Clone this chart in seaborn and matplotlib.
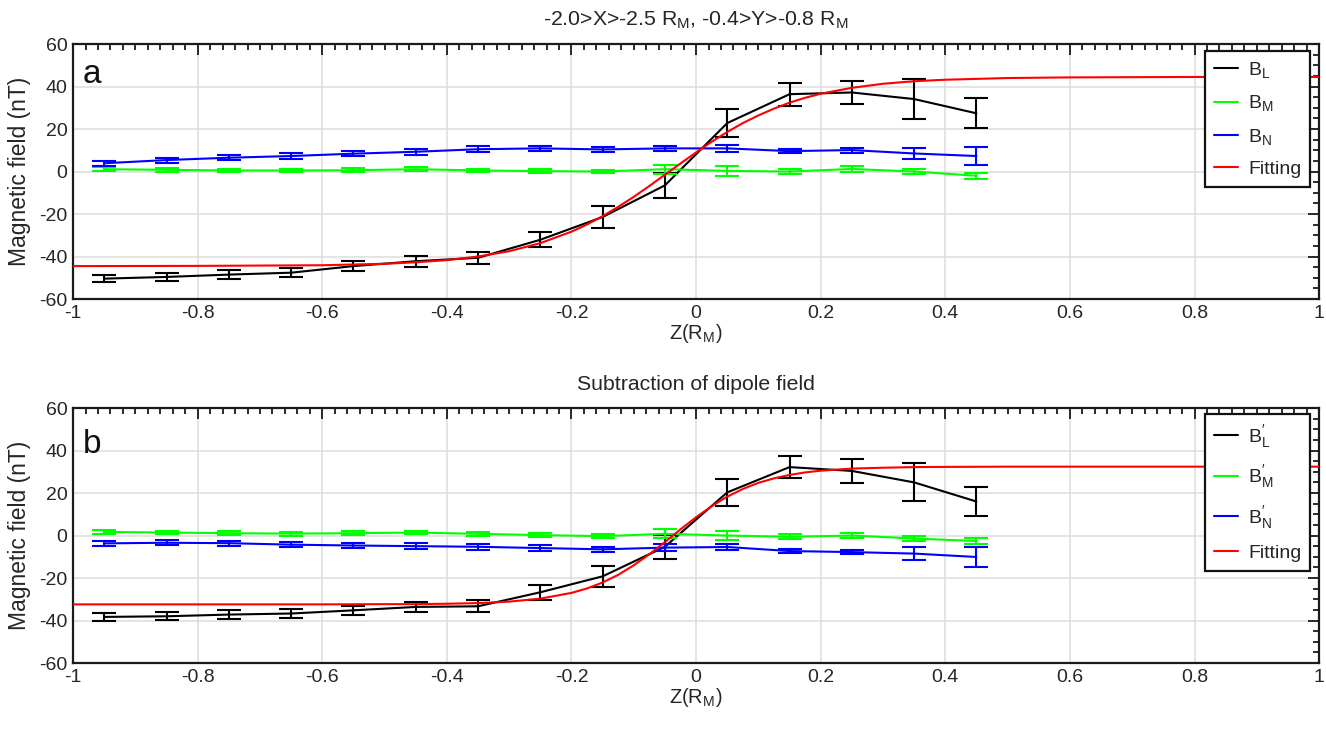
import matplotlib
matplotlib.use("Agg")
import matplotlib.pyplot as plt
import seaborn as sns
import pandas as pd
from matplotlib.lines import Line2D
from matplotlib.ticker import MultipleLocator, FuncFormatter

# ---------------- data ----------------
z = [-0.95, -0.85, -0.75, -0.65, -0.55, -0.45, -0.35, -0.25,
     -0.15, -0.05, 0.05, 0.15, 0.25, 0.35, 0.45]

# panel a
a_BL = [-50.4, -49.6, -48.5, -47.6, -44.5, -42.2, -40.6, -32.1,
        -21.4, -6.5, 22.8, 36.4, 37.2, 34.1, 27.4]
a_BL_err = [1.7, 1.7, 2.0, 2.2, 2.5, 2.6, 2.9, 3.5,
            5.0, 5.9, 6.6, 5.4, 5.4, 9.5, 7.1]
a_BM = [1.1, 0.8, 0.5, 0.5, 0.6, 1.1, 0.5, 0.2,
        0.0, 1.1, 0.3, 0.0, 1.2, 0.0, -2.0]
a_BM_err = [0.9, 0.9, 0.9, 0.9, 0.9, 0.9, 0.9, 0.9,
            0.9, 2.2, 2.5, 1.2, 1.3, 1.3, 1.4]
a_BN = [3.9, 5.4, 6.5, 7.3, 8.4, 9.3, 10.5, 10.9,
        10.4, 10.9, 10.9, 9.6, 10.1, 8.5, 7.3]
a_BN_err = [1.2, 1.2, 1.2, 1.2, 1.3, 1.3, 1.3, 1.3,
            1.2, 1.3, 1.5, 1.1, 1.2, 2.6, 4.4]

fit_z_a = [-1.0, -0.8, -0.6, -0.5, -0.45, -0.4, -0.35, -0.3, -0.25, -0.2,
           -0.175, -0.15, -0.125, -0.1, -0.075, -0.05, -0.025, 0.0, 0.025,
           0.05, 0.075, 0.1, 0.125, 0.15, 0.175, 0.2, 0.25, 0.3, 0.35, 0.4,
           0.5, 0.6, 0.8, 1.0]
fit_a = [-44.5, -44.4, -44.1, -43.4, -42.7, -41.7, -40.0, -37.5, -33.7, -28.3,
         -24.9, -21.0, -16.6, -11.9, -6.8, -1.5, 3.8, 9.0, 14.0,
         18.6, 22.8, 26.4, 29.6, 32.4, 34.7, 36.6, 39.4, 41.3, 42.5, 43.2,
         44.0, 44.3, 44.5, 44.5]

# panel b
b_BL = [-38.3, -38.0, -37.2, -36.7, -35.2, -33.6, -33.3, -26.7,
        -19.2, -5.3, 20.3, 32.2, 30.4, 25.0, 16.0]
b_BL_err = [1.9, 1.9, 2.2, 2.2, 2.2, 2.5, 2.9, 3.5,
            4.8, 5.7, 6.4, 5.3, 5.6, 8.9, 7.0]
b_BM = [1.7, 1.4, 1.1, 0.9, 1.1, 1.4, 0.8, 0.2,
        -0.3, 0.8, 0.0, -0.6, 0.0, -1.4, -2.6]
b_BM_err = [0.9, 0.9, 0.9, 0.9, 0.9, 0.9, 0.9, 0.9,
            0.9, 2.2, 2.3, 1.2, 1.3, 1.4, 1.2]
b_BN = [-3.7, -3.4, -3.6, -4.3, -4.7, -5.0, -5.3, -5.9,
        -6.5, -5.7, -5.4, -7.3, -7.8, -8.5, -10.1]
b_BN_err = [1.2, 1.2, 1.2, 1.2, 1.3, 1.3, 1.3, 1.3,
            1.2, 1.5, 1.5, 1.1, 1.1, 3.1, 4.7]

fit_z_b = [-1.0, -0.8, -0.6, -0.5, -0.45, -0.4, -0.35, -0.3, -0.25, -0.2,
           -0.175, -0.15, -0.125, -0.1, -0.075, -0.05, -0.025, 0.0, 0.025,
           0.05, 0.075, 0.1, 0.125, 0.15, 0.175, 0.2, 0.25, 0.3, 0.35, 0.4,
           0.5, 0.6, 0.8, 1.0]
fit_b = [-32.4, -32.4, -32.4, -32.3, -32.3, -32.1, -31.8, -31.1, -29.7, -27.0,
         -24.9, -22.1, -18.5, -14.0, -8.8, -3.1, 2.9, 8.6, 13.8,
         18.3, 21.9, 24.8, 26.9, 28.5, 29.7, 30.5, 31.5, 31.9, 32.2, 32.3,
         32.4, 32.4, 32.4, 32.4]

title_a = r"-2.0>X>-2.5 R$_\mathregular{M}$, -0.4>Y>-0.8 R$_\mathregular{M}$"
title_b = "Subtraction of dipole field"
labels_a = [r"$\mathregular{B_L}$", r"$\mathregular{B_M}$", r"$\mathregular{B_N}$", "Fitting"]
labels_b = [r"$\mathregular{B}^{\prime}_{\mathregular{L}}$",
            r"$\mathregular{B}^{\prime}_{\mathregular{M}}$",
            r"$\mathregular{B}^{\prime}_{\mathregular{N}}$", "Fitting"]
xlabel = r"Z(R$_\mathregular{M}$)"
ylabel = "Magnetic field (nT)"

# ---------------- style ----------------
sns.set_theme(style="white")
plt.rcParams["font.family"] = ["Liberation Sans", "DejaVu Sans"]
plt.rcParams["mathtext.fontset"] = "custom"
plt.rcParams["mathtext.rm"] = "Liberation Sans"
plt.rcParams["mathtext.it"] = "Liberation Sans:italic"
plt.rcParams["mathtext.bf"] = "Liberation Sans:bold"

C_K, C_G, C_B, C_R = "#000000", "#00ff00", "#0000ff", "#ff0000"
TXT = "#262626"

fig = plt.figure(figsize=(13.26, 7.29), dpi=100)
ax_a = fig.add_axes([0.0551, 0.5898, 0.9397, 0.3498])
ax_b = fig.add_axes([0.0551, 0.0905, 0.9397, 0.3498])


def panel(ax, series, fz, fy, labels, title, letter, letter_y, leg_y):
    for y, err, c in series:
        df = pd.DataFrame({"z": z, "B": y})
        sns.lineplot(data=df, x="z", y="B", color=c, linewidth=1.5,
                     ax=ax, legend=False, errorbar=None, zorder=3)
        ax.errorbar(z, y, yerr=err, fmt="none", ecolor=c, elinewidth=1.5,
                    capsize=8.3, capthick=1.5, zorder=3)
    dff = pd.DataFrame({"z": fz, "B": fy})
    sns.lineplot(data=dff, x="z", y="B", color=C_R, linewidth=1.5,
                 ax=ax, legend=False, errorbar=None, zorder=4)

    ax.set_xlim(-1, 1)
    ax.set_ylim(-60, 60)
    ax.xaxis.set_major_locator(MultipleLocator(0.2))
    ax.xaxis.set_minor_locator(MultipleLocator(0.02))
    ax.yaxis.set_major_locator(MultipleLocator(20))
    ax.yaxis.set_minor_locator(MultipleLocator(5))
    ax.xaxis.set_major_formatter(FuncFormatter(lambda v, p: f"{round(v, 2):g}" if abs(v) > 1e-9 else "0"))
    ax.yaxis.set_major_formatter(FuncFormatter(lambda v, p: f"{int(round(v))}"))
    ax.tick_params(which="both", direction="in", top=True, right=True,
                   color="#1a1a1a", width=1.3, labelsize=14, labelcolor=TXT)
    ax.tick_params(which="major", length=8, pad=4)
    ax.tick_params(which="minor", length=4)
    ax.grid(True, which="major", color="#dcdcdc", linewidth=1.1)
    ax.set_axisbelow(True)
    for s in ax.spines.values():
        s.set_color("#1a1a1a")
        s.set_linewidth(1.6)
    ax.set_xlabel(xlabel, fontsize=14.5, color=TXT, labelpad=0)
    ax.set_ylabel(ylabel, fontsize=16.5, color=TXT, labelpad=6)
    ax.set_title(title, fontsize=15.3, color=TXT, pad=13)
    ax.text(0.008, letter_y, letter, transform=ax.transAxes, fontsize=24,
            ha="left", va="baseline", color="#111111")

    handles = [Line2D([0], [0], color=c, lw=1.5) for c in (C_K, C_G, C_B, C_R)]
    leg = ax.legend(handles, labels, loc="upper right",
                    bbox_to_anchor=(0.9928, leg_y), borderaxespad=0,
                    fontsize=14, frameon=True, fancybox=False, framealpha=1,
                    edgecolor="#111111", handlelength=1.25, handletextpad=0.5,
                    labelspacing=0.7, borderpad=0.45)
    leg.get_frame().set_linewidth(1.6)
    leg.set_zorder(10)


panel(ax_a, [(a_BL, a_BL_err, C_K), (a_BM, a_BM_err, C_G), (a_BN, a_BN_err, C_B)],
      fit_z_a, fit_a, labels_a, title_a, "a", 0.847, 0.9725)
panel(ax_b, [(b_BL, b_BL_err, C_K), (b_BM, b_BM_err, C_G), (b_BN, b_BN_err, C_B)],
      fit_z_b, fit_b, labels_b, title_b, "b", 0.824, 0.976)

fig.savefig("out.png", dpi=100)
